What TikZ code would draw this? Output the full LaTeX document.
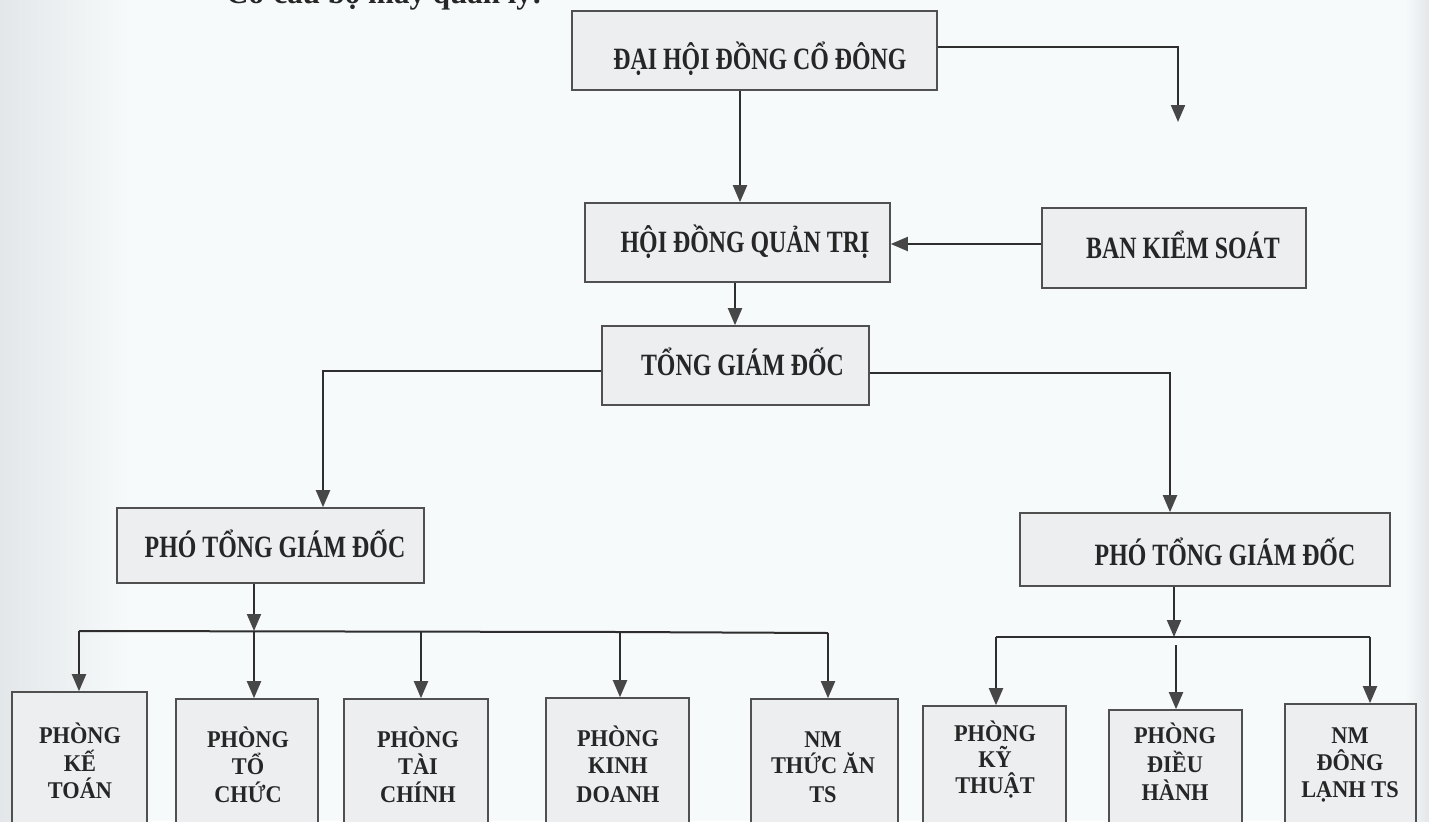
\documentclass[tikz,border=0pt]{standalone}
\usepackage{fontspec}
\setmainfont{Liberation Serif}
\newfontfamily\boxfont{Liberation Serif}[FakeStretch=0.77]
\newfontfamily\smallboxfont{Liberation Serif}[FakeStretch=0.93]
\usetikzlibrary{arrows.meta}
\definecolor{bgc}{HTML}{F6FAFB}
\definecolor{edgec}{HTML}{E3E7E9}
\definecolor{boxfill}{HTML}{ECEEF0}
\definecolor{boxline}{HTML}{505050}
\definecolor{linec}{HTML}{2E2E2E}
\definecolor{tipc}{HTML}{474747}
\definecolor{textc}{HTML}{262626}
\begin{document}
\begin{tikzpicture}[x=1bp,y=-1bp,
  box/.style={draw=boxline, line width=1.6bp, fill=boxfill, inner sep=0pt},
  conn/.style={draw=linec, line width=2bp},
  arr/.style={conn, -{Triangle[width=14bp,length=17bp,color=tipc]}},
  big/.style={anchor=base, inner sep=0pt, text=textc, font=\boxfont\bfseries\fontsize{31bp}{35bp}\selectfont},
  small/.style={anchor=base, inner sep=0pt, text=textc, font=\smallboxfont\bfseries\fontsize{24bp}{28bp}\selectfont},
  ttl/.style={anchor=base west, inner sep=0pt, text=textc, font=\bfseries\fontsize{31bp}{36bp}\selectfont}]
\useasboundingbox (0,0) rectangle (1429,821);
\clip (0,0) rectangle (1429,821);
\fill[bgc] (0,0) rectangle (1429,821);
\shade[left color=edgec, right color=bgc] (0,0) rectangle (130,821);
\shade[left color=bgc, right color=edgec] (1405,0) rectangle (1429,821);

% title (cut off at the top edge, as in the scan)
\node[ttl] (title) at (226,4) {Cơ cấu bộ máy quản lý:};

% boxes
\node[box, minimum width=365bp, minimum height=79bp] (dh) at (754.5,50.5) {};
\node[box, minimum width=305bp, minimum height=79bp] (hd) at (737.5,242.5) {};
\node[box, minimum width=264bp, minimum height=80bp] (bks) at (1174,248) {};
\node[box, minimum width=267bp, minimum height=79bp] (tg) at (735.5,365.5) {};
\node[box, minimum width=307bp, minimum height=75bp] (p1) at (270.5,545.5) {};
\node[box, minimum width=370bp, minimum height=73bp] (p2) at (1205,549.5) {};
\node[box, minimum width=135bp, minimum height=148bp] (b1) at (79.5,766) {};
\node[box, minimum width=142bp, minimum height=141bp] (b2) at (247,769.5) {};
\node[box, minimum width=144bp, minimum height=141bp] (b3) at (416,769.5) {};
\node[box, minimum width=143bp, minimum height=142bp] (b4) at (617.5,769) {};
\node[box, minimum width=147bp, minimum height=141bp] (b5) at (824.5,769.5) {};
\node[box, minimum width=143bp, minimum height=134bp] (b6) at (994.5,773) {};
\node[box, minimum width=133bp, minimum height=130bp] (b7) at (1175.5,775) {};
\node[box, minimum width=131bp, minimum height=136bp] (b8) at (1350.5,772) {};

% junctions and free ends
\coordinate (k1) at (1178,122);
\coordinate (j1a) at (79,631);
\coordinate (j1b) at (254,631);
\coordinate (j1c) at (421,631);
\coordinate (j1d) at (620,632);
\coordinate (j1e) at (828,633);
\coordinate (j2a) at (996,637);
\coordinate (j2b) at (1174,637);
\coordinate (j2m) at (1176,645);
\coordinate (j2c) at (1370,637);

% connectors
\draw[arr] (dh.east |- 0,47) -| (k1);
\draw[arr] (dh.south -| 740,0) -- (hd.north -| 740,0);
\draw[arr] (bks.west |- 0,244) -- (hd.east |- 0,244);
\draw[arr] (hd.south -| 735,0) -- (tg.north -| 735,0);
\draw[arr] (tg.west |- 0,371) -| (p1.north -| 323,0);
\draw[arr] (tg.east |- 0,373) -| (p2.north -| 1170,0);

\draw[arr] (p1.south -| 254,0) -- (j1b);
\draw[conn] (j1a) -- (j1d) -- (j1e);
\draw[arr] (j1a) -- (b1.north -| j1a);
\draw[arr] (j1b) -- (b2.north -| j1b);
\draw[arr] (j1c) -- (b3.north -| j1c);
\draw[arr] (j1d) -- (b4.north -| j1d);
\draw[arr] (j1e) -- (b5.north -| j1e);

\draw[arr] (p2.south -| 1174,0) -- (j2b);
\draw[conn] (j2a) -- (j2c);
\draw[arr] (j2a) -- (b6.north -| j2a);
\draw[arr] (j2m) -- (b7.north -| j2m);
\draw[arr] (j2c) -- (b8.north -| j2c);

% texts
\node[big] (tdh) at (760,70) {ĐẠI HỘI ĐỒNG CỔ ĐÔNG};
\node[big] (thd) at (745,252) {HỘI ĐỒNG QUẢN TRỊ};
\node[big] (tbks) at (1183,258) {BAN KIỂM SOÁT};
\node[big] (ttg) at (742.5,375) {TỔNG GIÁM ĐỐC};
\node[big] (tp1) at (275,557) {PHÓ TỔNG GIÁM ĐỐC};
\node[big] (tp2) at (1225,565) {PHÓ TỔNG GIÁM ĐỐC};

\node[small] (t1a) at (80,743) {PHÒNG};
\node[small] (t1b) at (80,771) {KẾ};
\node[small] (t1c) at (80,798) {TOÁN};
\node[small] (t2a) at (248,747) {PHÒNG};
\node[small] (t2b) at (248,774) {TỔ};
\node[small] (t2c) at (248,802) {CHỨC};
\node[small] (t3a) at (418,747) {PHÒNG};
\node[small] (t3b) at (418,774) {TÀI};
\node[small] (t3c) at (418,802) {CHÍNH};
\node[small] (t4a) at (618,746) {PHÒNG};
\node[small] (t4b) at (618,773) {KINH};
\node[small] (t4c) at (618,802) {DOANH};
\node[small] (t5a) at (823,747) {NM};
\node[small] (t5b) at (823,773) {THỨC ĂN};
\node[small] (t5c) at (823,802) {TS};
\node[small] (t6a) at (995,741) {PHÒNG};
\node[small] (t6b) at (995,767) {KỸ};
\node[small] (t6c) at (995,793) {THUẬT};
\node[small] (t7a) at (1175,743) {PHÒNG};
\node[small] (t7b) at (1175,772) {ĐIỀU};
\node[small] (t7c) at (1175,800) {HÀNH};
\node[small] (t8a) at (1350,743) {NM};
\node[small] (t8b) at (1350,770) {ĐÔNG};
\node[small] (t8c) at (1350,797) {LẠNH TS};
\end{tikzpicture}
\end{document}
